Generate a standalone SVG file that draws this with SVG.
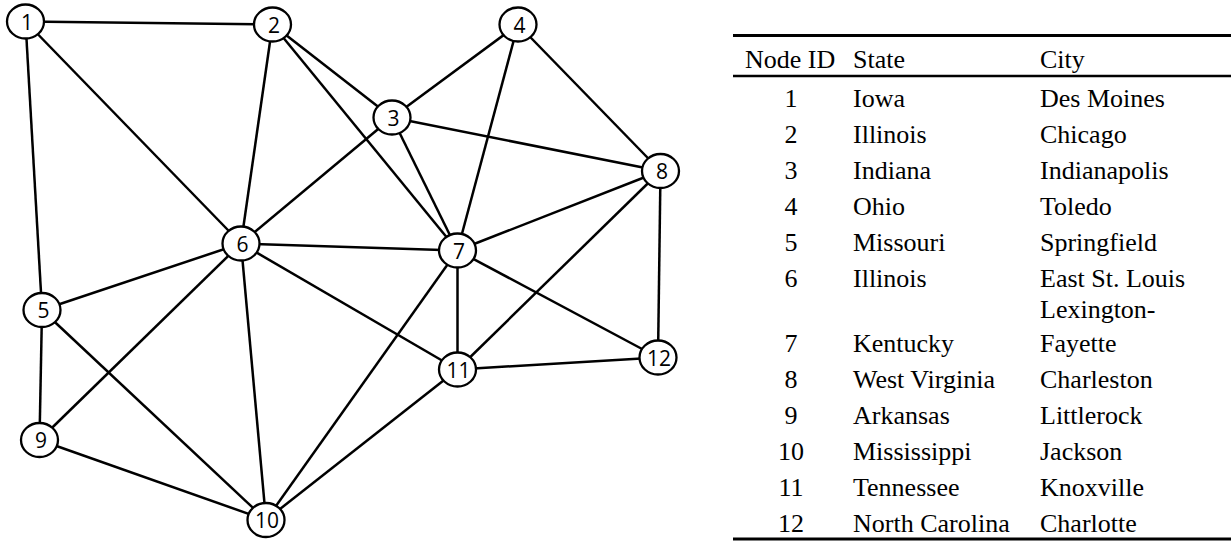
<svg xmlns="http://www.w3.org/2000/svg" width="1231" height="542" viewBox="0 0 1231 542">
<style>
.edge{stroke:#000;stroke-width:2.5;fill:none}
.node ellipse{fill:#fff;stroke:#000;stroke-width:2.3}
.node text{font-family:"Open Sans","Liberation Sans",sans-serif;font-size:21px;text-anchor:middle;fill:#000}
.tb{font-family:"Liberation Serif","Times New Roman",serif;font-size:26px;fill:#000}
.num{text-anchor:middle}
.rule{stroke:#000;fill:none}
</style>
<rect width="1231" height="542" fill="#fff"/>
<g id="connectors">
<line class="edge" x1="25.5" y1="21.5" x2="272.5" y2="24.5"/>
<line class="edge" x1="25.5" y1="21.5" x2="241" y2="243.5"/>
<line class="edge" x1="25.5" y1="21.5" x2="42" y2="310"/>
<line class="edge" x1="272.5" y1="24.5" x2="241" y2="243.5"/>
<line class="edge" x1="272.5" y1="24.5" x2="392" y2="117.5"/>
<line class="edge" x1="272.5" y1="24.5" x2="457.5" y2="250.5"/>
<line class="edge" x1="392" y1="117.5" x2="518" y2="24.5"/>
<line class="edge" x1="392" y1="117.5" x2="241" y2="243.5"/>
<line class="edge" x1="392" y1="117.5" x2="457.5" y2="250.5"/>
<line class="edge" x1="392" y1="117.5" x2="660.5" y2="171"/>
<line class="edge" x1="518" y1="24.5" x2="457.5" y2="250.5"/>
<line class="edge" x1="518" y1="24.5" x2="660.5" y2="171"/>
<line class="edge" x1="241" y1="243.5" x2="457.5" y2="250.5"/>
<line class="edge" x1="241" y1="243.5" x2="42" y2="310"/>
<line class="edge" x1="241" y1="243.5" x2="39.5" y2="440"/>
<line class="edge" x1="241" y1="243.5" x2="266" y2="520"/>
<line class="edge" x1="241" y1="243.5" x2="457.5" y2="369.5"/>
<line class="edge" x1="457.5" y1="250.5" x2="660.5" y2="171"/>
<line class="edge" x1="457.5" y1="250.5" x2="457.5" y2="369.5"/>
<line class="edge" x1="457.5" y1="250.5" x2="658" y2="357.5"/>
<line class="edge" x1="457.5" y1="250.5" x2="266" y2="520"/>
<line class="edge" x1="660.5" y1="171" x2="457.5" y2="369.5"/>
<line class="edge" x1="660.5" y1="171" x2="658" y2="357.5"/>
<line class="edge" x1="457.5" y1="369.5" x2="658" y2="357.5"/>
<line class="edge" x1="457.5" y1="369.5" x2="266" y2="520"/>
<line class="edge" x1="42" y1="310" x2="39.5" y2="440"/>
<line class="edge" x1="42" y1="310" x2="266" y2="520"/>
<line class="edge" x1="39.5" y1="440" x2="266" y2="520"/>
</g>
<g id="node1" class="node"><ellipse cx="25.5" cy="21.5" rx="18.5" ry="17"/><text x="27" y="29.5">1</text></g>
<g id="node2" class="node"><ellipse cx="272.5" cy="24.5" rx="18.5" ry="17"/><text x="274" y="32.5">2</text></g>
<g id="node3" class="node"><ellipse cx="392" cy="117.5" rx="18.5" ry="17"/><text x="393.5" y="125.5">3</text></g>
<g id="node4" class="node"><ellipse cx="518" cy="24.5" rx="18.5" ry="17"/><text x="519.5" y="32.5">4</text></g>
<g id="node5" class="node"><ellipse cx="42" cy="310" rx="18.5" ry="17"/><text x="43.5" y="318">5</text></g>
<g id="node6" class="node"><ellipse cx="241" cy="243.5" rx="18.5" ry="17"/><text x="242.5" y="251.5">6</text></g>
<g id="node7" class="node"><ellipse cx="457.5" cy="250.5" rx="18.5" ry="17"/><text x="459" y="258.5">7</text></g>
<g id="node8" class="node"><ellipse cx="660.5" cy="171" rx="18.5" ry="17"/><text x="662" y="179">8</text></g>
<g id="node9" class="node"><ellipse cx="39.5" cy="440" rx="18.5" ry="17"/><text x="41" y="448">9</text></g>
<g id="node10" class="node"><ellipse cx="266" cy="520" rx="18.5" ry="17"/><text x="267" y="528">10</text></g>
<g id="node11" class="node"><ellipse cx="457.5" cy="369.5" rx="18.5" ry="17"/><text x="458.5" y="377.5">11</text></g>
<g id="node12" class="node"><ellipse cx="658" cy="357.5" rx="18.5" ry="17"/><text x="659" y="365.5">12</text></g>
<g id="table">
<line class="rule" x1="733" y1="35.5" x2="1231" y2="35.5" stroke-width="3"/>
<line class="rule" x1="733" y1="76" x2="1231" y2="76" stroke-width="2.5"/>
<line class="rule" x1="733" y1="539" x2="1231" y2="539" stroke-width="3"/>
<text class="tb" x="745" y="68">Node ID</text>
<text class="tb" x="853" y="68">State</text>
<text class="tb" x="1040" y="68">City</text>
<text class="tb num" x="791" y="107">1</text><text class="tb" x="853" y="107">Iowa</text><text class="tb" x="1040" y="107">Des Moines</text>
<text class="tb num" x="791" y="143">2</text><text class="tb" x="853" y="143">Illinois</text><text class="tb" x="1040" y="143">Chicago</text>
<text class="tb num" x="791" y="179">3</text><text class="tb" x="853" y="179">Indiana</text><text class="tb" x="1040" y="179">Indianapolis</text>
<text class="tb num" x="791" y="215">4</text><text class="tb" x="853" y="215">Ohio</text><text class="tb" x="1040" y="215">Toledo</text>
<text class="tb num" x="791" y="251">5</text><text class="tb" x="853" y="251">Missouri</text><text class="tb" x="1040" y="251">Springfield</text>
<text class="tb num" x="791" y="287">6</text><text class="tb" x="853" y="287">Illinois</text><text class="tb" x="1040" y="287">East St. Louis</text>
<text class="tb" x="1040" y="318">Lexington-</text>
<text class="tb num" x="791" y="352">7</text><text class="tb" x="853" y="352">Kentucky</text><text class="tb" x="1040" y="352">Fayette</text>
<text class="tb num" x="791" y="388">8</text><text class="tb" x="853" y="388">West Virginia</text><text class="tb" x="1040" y="388">Charleston</text>
<text class="tb num" x="791" y="424">9</text><text class="tb" x="853" y="424">Arkansas</text><text class="tb" x="1040" y="424">Littlerock</text>
<text class="tb num" x="791" y="460">10</text><text class="tb" x="853" y="460">Mississippi</text><text class="tb" x="1040" y="460">Jackson</text>
<text class="tb num" x="791" y="496">11</text><text class="tb" x="853" y="496">Tennessee</text><text class="tb" x="1040" y="496">Knoxville</text>
<text class="tb num" x="791" y="532">12</text><text class="tb" x="853" y="532">North Carolina</text><text class="tb" x="1040" y="532">Charlotte</text>
</g>
</svg>
